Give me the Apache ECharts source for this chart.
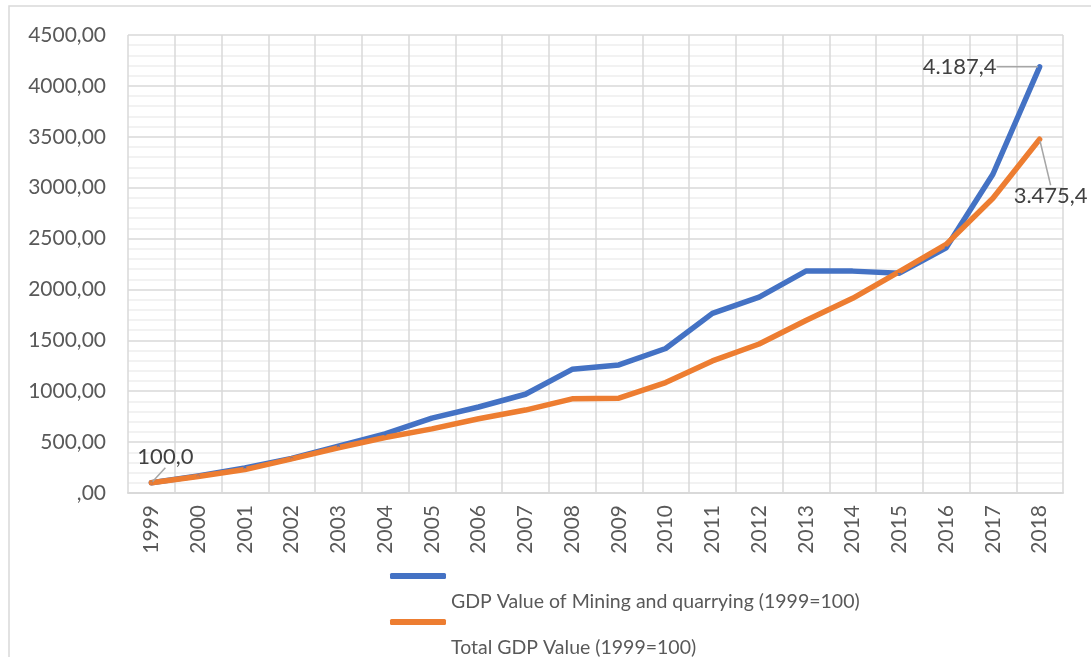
<!DOCTYPE html>
<html>
<head>
<meta charset="utf-8" />
<title>GDP Value</title>
<style type="text/css">
body,div{margin:0;padding:0;}
#chart{width:1091px;height:657px;}
</style>
<script src="https://cdn.jsdelivr.net/npm/echarts@6/dist/echarts.min.js"></script>
</head>
<body>
<div id="chart"></div>
<script type="text/javascript">
var years = ['1999','2000','2001','2002','2003','2004','2005','2006','2007','2008',
             '2009','2010','2011','2012','2013','2014','2015','2016','2017','2018'];
var mining = [100, 168, 245, 340, 460, 580, 735, 845, 970, 1215,
              1258, 1420, 1765, 1925, 2180, 2180, 2160, 2410, 3132, 4187.4];
var total = [100, 162, 230, 335, 445, 545, 630, 730, 815, 925,
             932, 1085, 1298, 1464, 1695, 1913, 2175, 2443, 2896, 3475.4];
var seriesNames = ['GDP Value of Mining and quarrying (1999=100)', 'Total GDP Value (1999=100)'];

var font = 'Lato';
var grey = '#595959';

// Turkish style number: 4.187,4
function trNum(v){
    var parts = v.toFixed(1).split('.');
    var intPart = parts[0].replace(/\B(?=(\d{3})+(?!\d))/g, '.');
    return intPart + ',' + parts[1];
}

// which points get a label
function withLabels(arr, idxs){
    return arr.map(function(v, i){
        if (idxs.indexOf(i) >= 0) {
            return {value: v, label: {show: true}, labelLine: {show: true}};
        }
        return v;
    });
}

// label offsets (seriesIndex_dataIndex)
var labelShift = {
    '0_19': [-80, 0],
    '1_0': [14, -26],
    '1_19': [11, 57]
};

var myChart = echarts.init(document.getElementById('chart'));

var lineLabel = {
    show: false,
    position: 'inside',
    fontFamily: font,
    fontSize: 22,
    color: '#404040',
    formatter: function(p){ return trNum(p.value); }
};
var lineGuide = {
    show: true,
    lineStyle: {color: '#a6a6a6', width: 1.5}
};

function legendOf(name, top){
    return {
        data: [name],
        left: 385,
        top: top,
        itemWidth: 56,
        itemHeight: 6,
        icon: 'roundRect',
        selectedMode: false,
        formatter: function(n){ return '{s| }\n{t|' + n + '}'; },
        textStyle: {
            rich: {
                s: {height: 52, fontSize: 10},
                t: {fontFamily: font, fontSize: 19.5, color: grey, height: 22, lineHeight: 22}
            }
        }
    };
}

option = {
    animation: false,
    backgroundColor: '#fff',
    textStyle: {fontFamily: font},
    graphic: [{
        type: 'polyline',
        shape: {points: [[9, 700], [9, 6], [1100, 6]]},
        style: {fill: null, stroke: '#d9d9d9', lineWidth: 1.5},
        silent: true
    }],
    legend: [legendOf(seriesNames[0], 555), legendOf(seriesNames[1], 601)],
    grid: {left: 128, right: 28, top: 35, bottom: 164},
    xAxis: {
        type: 'category',
        data: years,
        boundaryGap: true,
        axisLine: {lineStyle: {color: '#d9d9d9', width: 2}},
        axisTick: {show: false},
        axisLabel: {
            rotate: 90,
            margin: 12,
            fontFamily: font,
            fontSize: 21,
            color: grey,
            interval: 0
        },
        splitLine: {show: true, lineStyle: {color: '#d9d9d9', width: 1.5}}
    },
    yAxis: {
        type: 'value',
        min: 0,
        max: 4500,
        interval: 500,
        axisLine: {show: false},
        axisTick: {show: false},
        axisLabel: {
            margin: 22,
            fontFamily: font,
            fontSize: 21,
            color: grey,
            formatter: function(v){ return v === 0 ? ',00' : v + ',00'; }
        },
        splitLine: {lineStyle: {color: '#d9d9d9', width: 1.5}},
        minorTick: {show: false, splitNumber: 5},
        minorSplitLine: {show: true, lineStyle: {color: '#eeeeee', width: 1.5}}
    },
    series: [
        {
            name: seriesNames[0],
            type: 'line',
            data: withLabels(mining, [19]),
            symbol: 'circle',
            symbolSize: 3,
            lineStyle: {color: '#4472c4', width: 5.5, cap: 'round', join: 'round'},
            itemStyle: {color: '#4472c4'},
            label: lineLabel,
            labelLine: lineGuide,
            labelLayout: function(p){
                var s = labelShift['0_' + p.dataIndex];
                return s ? {dx: s[0], dy: s[1]} : {};
            }
        },
        {
            name: seriesNames[1],
            type: 'line',
            data: withLabels(total, [0, 19]),
            symbol: 'circle',
            symbolSize: 3,
            lineStyle: {color: '#ed7d31', width: 5.5, cap: 'round', join: 'round'},
            itemStyle: {color: '#ed7d31'},
            label: lineLabel,
            labelLine: lineGuide,
            labelLayout: function(p){
                var s = labelShift['1_' + p.dataIndex];
                return s ? {dx: s[0], dy: s[1]} : {};
            }
        }
    ]
};
myChart.setOption(option);
</script>
</body>
</html>
